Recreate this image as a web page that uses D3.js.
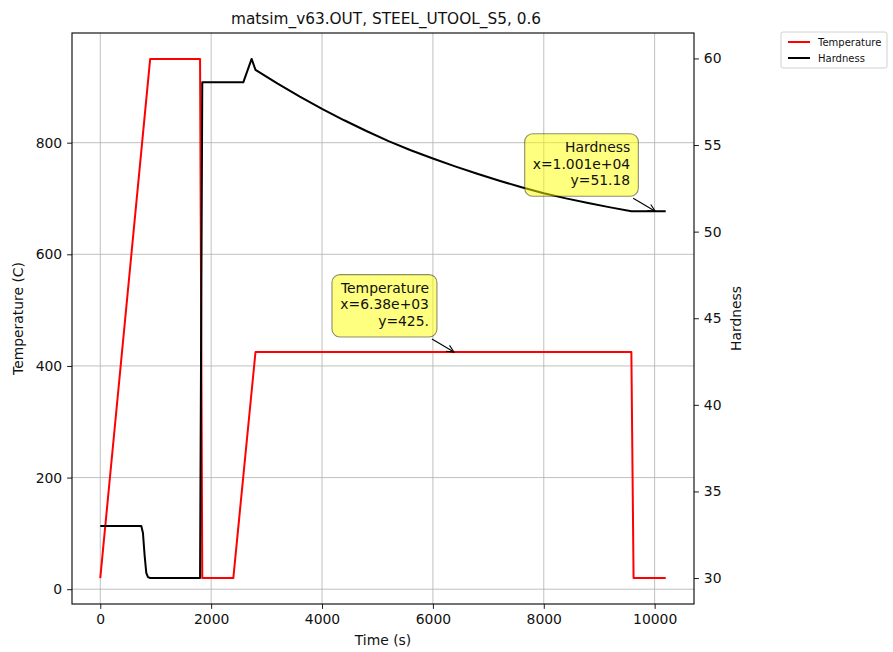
<!DOCTYPE html>
<html><head><meta charset="utf-8">
<script src="https://cdn.jsdelivr.net/npm/d3@7"></script>
<style>body{margin:0;background:#fff;} text{font-family:"DejaVu Sans",sans-serif;fill:#111;}</style>
</head><body>
<svg id="chart" width="893" height="652"></svg>
<script>
// ---- data ----
const titleText = "matsim_v63.OUT, STEEL_UTOOL_S5, 0.6";
const tempTime = [0, 900, 1800, 1840, 2400, 2800, 9580, 9620, 10200];
const tempValues = [20, 950, 950, 20, 20, 425, 425, 20, 20];
const hardTime = [0, 740, 770, 800, 830, 860, 900, 1800, 1840, 2580, 2730, 2800, 3200, 3600, 4000, 4400, 4800, 5200, 5600, 6000, 6400, 6800, 7200, 7600, 8000, 8400, 8800, 9200, 9580, 10200];
const hardValues = [33.0, 33.0, 32.6, 31.3, 30.3, 30.05, 30.0, 30.0, 58.62, 58.62, 59.97, 59.34, 58.55, 57.80, 57.09, 56.43, 55.81, 55.23, 54.70, 54.22, 53.77, 53.34, 52.94, 52.56, 52.22, 51.92, 51.65, 51.40, 51.18, 51.18];
const xTicks = [0, 2000, 4000, 6000, 8000, 10000];
const tempTicks = [0, 200, 400, 600, 800];
const hardTicks = [30, 35, 40, 45, 50, 55, 60];
const seriesNames = ["Temperature", "Hardness"];
const seriesColors = ["#ff0000", "#000000"];
const tempNote = {x: 6380, y: 425, lines: ["Temperature", "x=6.38e+03", "y=425."]};
const hardNote = {x: 10010, y: 51.18, lines: ["Hardness", "x=1.001e+04", "y=51.18"]};

// ---- layout ----
const L = 72, R = 694, T = 33, B = 604;
const svg = d3.select("#chart");

function padDomain(vals) {
  const mn = d3.min(vals), mx = d3.max(vals), r = mx - mn;
  return [mn - 0.05 * r, mx + 0.05 * r];
}
const x = d3.scaleLinear().domain(padDomain(tempTime.concat(hardTime))).range([L, R]);
const yT = d3.scaleLinear().domain(padDomain(tempValues)).range([B, T]);
const yH = d3.scaleLinear().domain(padDomain(hardValues)).range([B, T]);

// grid
const grid = svg.append("g").attr("stroke", "#b0b0b0").attr("stroke-width", 0.8);
xTicks.forEach(t => grid.append("line").attr("x1", x(t)).attr("x2", x(t)).attr("y1", T).attr("y2", B));
tempTicks.forEach(t => grid.append("line").attr("x1", L).attr("x2", R).attr("y1", yT(t)).attr("y2", yT(t)));

// lines
const tempData = tempTime.map((t, i) => [t, tempValues[i]]);
const hardData = hardTime.map((t, i) => [t, hardValues[i]]);
svg.append("path").datum(tempData).attr("fill", "none").attr("stroke", seriesColors[0]).attr("stroke-width", 2)
  .attr("stroke-linejoin", "round").attr("d", d3.line().x(d => x(d[0])).y(d => yT(d[1])));
svg.append("path").datum(hardData).attr("fill", "none").attr("stroke", seriesColors[1]).attr("stroke-width", 2)
  .attr("stroke-linejoin", "round").attr("d", d3.line().x(d => x(d[0])).y(d => yH(d[1])));

// axes
function styleAxis(g) {
  g.selectAll("path.domain").remove();
  g.selectAll(".tick line").attr("stroke", "#000").attr("stroke-width", 0.9);
  g.selectAll(".tick text").attr("font-size", "13.9px").attr("font-family", "DejaVu Sans").attr("fill", "#111");
}
svg.append("g").attr("transform", `translate(0,${B})`)
  .call(d3.axisBottom(x).tickValues(xTicks).tickSize(4.9).tickPadding(4.9).tickFormat(d3.format("d"))).call(styleAxis);
svg.append("g").attr("transform", `translate(${L},0)`)
  .call(d3.axisLeft(yT).tickValues(tempTicks).tickSize(4.9).tickPadding(4.9).tickFormat(d3.format("d"))).call(styleAxis);
svg.append("g").attr("transform", `translate(${R},0)`)
  .call(d3.axisRight(yH).tickValues(hardTicks).tickSize(4.9).tickPadding(4.9).tickFormat(d3.format("d"))).call(styleAxis);

// frame
svg.append("rect").attr("x", L).attr("y", T).attr("width", R - L).attr("height", B - T)
  .attr("fill", "none").attr("stroke", "#000").attr("stroke-width", 1.1);

// labels
svg.append("text").attr("x", (L + R) / 2 + 3).attr("y", 24).attr("text-anchor", "middle").attr("font-size", "16.5px")
  .attr("textLength", 310).attr("lengthAdjust", "spacingAndGlyphs").text(titleText);
svg.append("text").attr("x", (L + R) / 2).attr("y", 645).attr("text-anchor", "middle").attr("font-size", "13.9px").text("Time (s)");
svg.append("text").attr("transform", `translate(23,${(T + B) / 2}) rotate(-90)`).attr("text-anchor", "middle").attr("font-size", "13.9px").text("Temperature (C)");
svg.append("text").attr("transform", `translate(741,${(T + B) / 2}) rotate(-90)`).attr("text-anchor", "middle").attr("font-size", "13.9px").text("Hardness");

// annotations
function annotate(note, yScale) {
  const px = x(note.x), py = yScale(note.y);
  const g = svg.append("g");
  const boxRight = px - 16, boxBottom = py - 15;
  const padX = 8, padY = 7, lh = 16.7;
  const rect = g.append("rect");
  const txt = g.append("text").attr("font-size", "13.9px").attr("text-anchor", "end");
  const n = note.lines.length;
  note.lines.forEach((s, i) => {
    txt.append("tspan").attr("x", boxRight - padX - 1).attr("y", boxBottom - padY - 4 - (n - 1 - i) * lh).text(s);
  });
  const bb = txt.node().getBBox();
  rect.attr("x", bb.x - padX).attr("y", bb.y - padY + 2).attr("width", bb.width + 2 * padX).attr("height", boxBottom - (bb.y - padY + 2))
    .attr("rx", 8).attr("fill", "#ffff00").attr("fill-opacity", 0.5).attr("stroke", "#000").attr("stroke-opacity", 0.45).attr("stroke-width", 1.1);
  // arrow
  const sx = boxRight - 6, sy = boxBottom + 2;
  const ang = Math.atan2(py - sy, px - sx);
  const hl = 8, ha = 0.45;
  g.append("line").attr("x1", sx).attr("y1", sy).attr("x2", px).attr("y2", py).attr("stroke", "#000").attr("stroke-width", 1.1);
  g.append("path").attr("d", `M${px - hl * Math.cos(ang - ha)},${py - hl * Math.sin(ang - ha)} L${px},${py} L${px - hl * Math.cos(ang + ha)},${py - hl * Math.sin(ang + ha)}`)
    .attr("fill", "none").attr("stroke", "#000").attr("stroke-width", 1.1);
}
annotate(tempNote, yT);
annotate(hardNote, yH);

// legend
const lg = svg.append("g");
lg.append("rect").attr("x", 781).attr("y", 32).attr("width", 106).attr("height", 36).attr("rx", 2)
  .attr("fill", "#fff").attr("stroke", "#d0d0d0").attr("stroke-width", 1);
seriesNames.forEach((s, i) => {
  const yy = 42 + i * 16;
  lg.append("line").attr("x1", 788).attr("x2", 810).attr("y1", yy).attr("y2", yy).attr("stroke", seriesColors[i]).attr("stroke-width", 2);
  lg.append("text").attr("x", 818).attr("y", yy + 3.5).attr("font-size", "10px").text(s);
});
</script>
</body></html>
